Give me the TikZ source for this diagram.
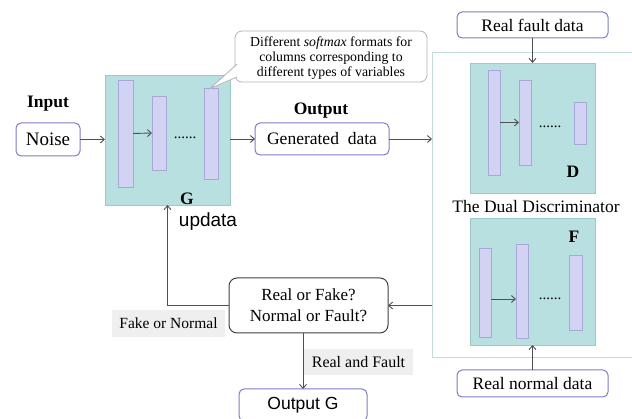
\documentclass[tikz,border=0pt]{standalone}
\usepackage{fontspec}
\setmainfont{Liberation Serif}
\newfontfamily\arialfont{Liberation Sans}
\usetikzlibrary{arrows.meta}
\definecolor{tealfill}{HTML}{B9E0E0}
\definecolor{tealedge}{HTML}{9CC8C8}
\definecolor{barfill}{HTML}{D2D2F2}
\definecolor{baredge}{HTML}{A8A8D8}
\definecolor{boxedge}{HTML}{7C7CC8}
\definecolor{bigedge}{HTML}{C4DADA}
\definecolor{lblbg}{HTML}{EFEFEF}
\definecolor{arrc}{HTML}{505050}
\definecolor{calledge}{HTML}{B4B4B4}
\begin{document}
\begin{tikzpicture}[x=1pt,y=-1pt,
  every node/.style={inner sep=0pt, outer sep=0pt},
  netbox/.style={draw=tealedge, fill=tealfill, line width=0.8pt, minimum width=125pt},
  bar/.style={draw=baredge, fill=barfill, line width=0.8pt},
  iobox/.style={draw=boxedge, fill=white, line width=1pt, rounded corners=5pt, font=\fontsize{17.5}{21}\selectfont},
  arr/.style={draw=arrc, line width=0.9pt, -{Straight Barb[length=4pt,width=7pt]}},
  lbl/.style={fill=lblbg, font=\fontsize{15.5}{18}\selectfont},
  boldlbl/.style={font=\fontsize{17.5}{21}\selectfont\bfseries},
  dots/.style={font=\fontsize{15}{15}\selectfont, anchor=base},
]
\useasboundingbox (0,0) rectangle (632,419);
\clip (0,0) rectangle (632,419);

% ---------- Input / Noise ----------
\node[boldlbl] (inlbl) at (48,104) {Input};
\node[iobox, minimum width=64pt, minimum height=33pt, font=\fontsize{19}{21}\selectfont] (noise) at (48,139.5) {Noise};

% ---------- Generator G ----------
\node[netbox, minimum height=130pt] (gbox) at (167.5,140) {};
\node[bar, minimum width=15pt, minimum height=107pt] (g1) at (125.5,133.5) {};
\node[bar, minimum width=14pt, minimum height=74pt] (g2) at (159,133) {};
\node[bar, minimum width=14pt, minimum height=91pt] (g3) at (211,133.5) {};
\draw[arr] (g1.east) -- (g2.west);
\node[dots] (gdots) at (185,139) {......};
\node[boldlbl] (glbl) at (187,199) {G};
\node[font=\arialfont\fontsize{19}{21}\selectfont] (upd) at (208,222) {updata};

% ---------- Callout ----------
\node[draw=calledge, fill=white, line width=0.8pt, rounded corners=7pt,
      minimum width=192pt, minimum height=51pt] (callout) at (331,56.5) {};
\coordinate (tailA) at (236.5,64);
\coordinate (tailB) at (236.5,77);
\coordinate (tailtip) at (210,88.5);
\fill[white] ([xshift=2pt]tailA) -- (tailtip) -- ([xshift=2pt]tailB) -- cycle;
\draw[calledge, line width=0.8pt] ([xshift=0.6pt]tailA) -- (tailtip) -- ([xshift=0.6pt]tailB);
\node[align=center, font=\fontsize{13.8}{15.3}\selectfont] (calltext) at (331,58)
  {Different \textit{softmax} formats for\\columns corresponding to\\different types of variables};

% ---------- Output / Generated data ----------
\node[boldlbl] (outlbl) at (321,111) {Output};
\node[iobox, minimum width=134pt, minimum height=32pt] (gen) at (322,139) {Generated\ \ data};

% ---------- Dual discriminator ----------
\node[draw=bigedge, line width=0.9pt, minimum width=213pt, minimum height=305pt] (dual) at (538.5,204.5) {};
\node[iobox, minimum width=151pt, minimum height=26pt] (rfd) at (532.5,25) {Real fault data};

\node[netbox, minimum height=130pt] (dbox) at (532.5,128) {};
\node[bar, minimum width=12pt, minimum height=105pt] (d1) at (494,122.5) {};
\node[bar, minimum width=12pt, minimum height=85pt] (d2) at (525,122.5) {};
\node[bar, minimum width=12pt, minimum height=42pt] (d3) at (580,123) {};
\draw[arr] (d1.east) -- (d2.west);
\node[dots] (ddots) at (550,128) {......};
\node[boldlbl] (dlbl) at (573,172) {D};

\node[font=\fontsize{17.5}{21}\selectfont] (duallbl) at (536,207) {The Dual Discriminator};

\node[netbox, minimum height=127pt] (fbox) at (532.5,281.5) {};
\node[bar, minimum width=12pt, minimum height=89pt] (f1) at (485,292.5) {};
\node[bar, minimum width=12pt, minimum height=94pt] (f2) at (522,291) {};
\node[bar, minimum width=13pt, minimum height=75pt] (f3) at (575.5,292.5) {};
\coordinate (fa) at (500,299);
\draw[arr] (f1.east |- fa) -- (f2.west |- fa);
\node[dots] (fdots) at (550,300) {......};
\node[boldlbl] (flbl) at (574,237) {F};

\node[iobox, minimum width=151pt, minimum height=27pt] (rnd) at (532.5,383.5) {Real normal data};

% ---------- Judge ----------
\node[draw=arrc!80!black, fill=white, line width=1pt, rounded corners=8pt,
      minimum width=159pt, minimum height=55pt, align=center,
      font=\fontsize{17}{21}\selectfont] (judge) at (308.5,305.5) {Real or Fake?\\Normal or Fault?};

\node[lbl, minimum width=113pt, minimum height=27pt] (fon) at (168.5,323.5) {Fake or Normal};
\node[lbl, minimum width=109pt, minimum height=26pt, font=\fontsize{16}{18}\selectfont] (raf) at (358.5,362) {Real and Fault};

\node[iobox, minimum width=128pt, minimum height=32pt, anchor=north,
      font=\arialfont\fontsize{17.5}{21}\selectfont] (outg) at (303,389) {Output G};

% ---------- Connectors ----------
\draw[arr] (noise.east) -- (gbox.west |- noise.east);
\draw[arr] (gbox.east |- gen.west) -- (gen.west);
\draw[arr] (gen.east) -- (gen.east -| dual.west);
\draw[arr] (rfd.south) -- (dbox.north);
\draw[arr] (rnd.north) -- (fbox.south);
\draw[arr] (dual.west |- judge.east) -- (judge.east);
\draw[arr] (judge.west) -| (gbox.south);
\draw[arr] (outg.north |- judge.south) -- (outg.north);
\end{tikzpicture}
\end{document}
